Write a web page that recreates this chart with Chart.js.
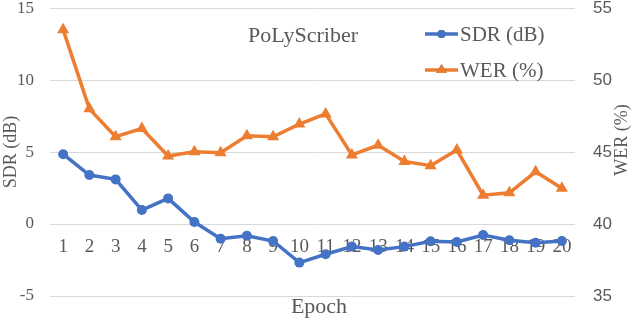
<!DOCTYPE html>
<html>
<head>
<meta charset="utf-8">
<script src="https://cdn.jsdelivr.net/npm/chart.js@4"></script>
<style>
  html, body { margin: 0; padding: 0; background: #fff; }
  #wrap { width: 638px; height: 320px; }
</style>
</head>
<body>
<div id="wrap"><canvas id="chart" width="638" height="320"></canvas></div>
<script>
// data
const epochs = ['1','2','3','4','5','6','7','8','9','10','11','12','13','14','15','16','17','18','19','20'];
const sdrValues = [4.85, 3.4, 3.1, 0.97, 1.78, 0.14, -1.02, -0.81, -1.18, -2.68, -2.1, -1.57, -1.8, -1.57, -1.2, -1.25, -0.76, -1.13, -1.3, -1.18];
const werValues = [53.5, 48.0, 46.06, 46.64, 44.72, 45.02, 44.95, 46.13, 46.06, 46.94, 47.65, 44.8, 45.47, 44.35, 44.05, 45.14, 42.0, 42.17, 43.63, 42.48];
const sdrTicks = [-5, 0, 5, 10, 15];
const werTicks = [35, 40, 45, 50, 55];

const SERIF = '"Liberation Serif", "DejaVu Serif", serif';
const SANS = '"Liberation Sans", Arial, sans-serif';
const TXT = '#595959';
const BLUE = '#4472C4';
const ORANGE = '#ED7D31';

// in-plot caption, legend and right axis title (reads bottom to top)
const extras = {
    id: 'extras',
    afterDraw(chart) {
        const ctx = chart.ctx;
        ctx.save();
        ctx.fillStyle = TXT;
        ctx.font = '22px ' + SERIF;
        ctx.textAlign = 'center';
        ctx.textBaseline = 'middle';
        ctx.fillText('PoLyScriber', 303, 36);

        // legend
        const items = [
            { label: 'SDR (dB)', color: BLUE, style: 'circle', y: 34 },
            { label: 'WER (%)', color: ORANGE, style: 'triangle', y: 70 }
        ];
        items.forEach(function(it) {
            ctx.strokeStyle = it.color;
            ctx.lineWidth = 3.5;
            ctx.beginPath();
            ctx.moveTo(425, it.y);
            ctx.lineTo(458, it.y);
            ctx.stroke();
            Chart.helpers.drawPoint(ctx, {
                pointStyle: it.style,
                radius: it.style == 'circle' ? 4 : 6,
                borderWidth: 0
            }, 441.5, it.y);
            ctx.fillStyle = it.color;
            ctx.fill();
            ctx.fillStyle = TXT;
            ctx.font = '21px ' + SERIF;
            ctx.textAlign = 'left';
            ctx.fillText(it.label, 460, it.y + 1);
        });

        // right axis title
        ctx.translate(622, 140);
        ctx.rotate(-Math.PI / 2);
        ctx.font = '18px ' + SERIF;
        ctx.textAlign = 'center';
        ctx.fillText('WER (%)', 0, 0);
        ctx.restore();
    }
};

const ctx = document.getElementById('chart').getContext('2d');
new Chart(ctx, {
    type: 'line',
    data: {
        labels: epochs,
        datasets: [{
            label: 'SDR (dB)',
            data: sdrValues,
            yAxisID: 'y',
            borderColor: BLUE,
            backgroundColor: BLUE,
            borderWidth: 3.5,
            pointStyle: 'circle',
            pointRadius: 5,
            pointBorderWidth: 0,
            tension: 0
        }, {
            label: 'WER (%)',
            data: werValues,
            yAxisID: 'y1',
            borderColor: ORANGE,
            backgroundColor: ORANGE,
            borderWidth: 3.5,
            pointStyle: 'triangle',
            pointRadius: 7,
            pointBorderWidth: 0,
            tension: 0
        }]
    },
    options: {
        responsive: false,
        animation: false,
        layout: { padding: 0 },
        plugins: {
            legend: { display: false },
            tooltip: { enabled: false },
            title: {
                display: true,
                position: 'bottom',
                text: 'Epoch',
                color: TXT,
                font: { family: SERIF, size: 22, weight: 'normal', lineHeight: 1 },
                padding: { top: 0, bottom: 2 }
            }
        },
        scales: {
            x: {
                axis: 'x',
                type: 'category',
                position: { y: 0 },
                offset: true,
                grid: { display: false, drawTicks: false },
                border: { display: false },
                ticks: {
                    color: TXT,
                    font: { family: SERIF, size: 19 },
                    padding: 12,
                    maxRotation: 0,
                    autoSkip: false
                }
            },
            y: {
                position: 'left',
                min: -5,
                max: 15,
                afterBuildTicks: function(s) { s.ticks = sdrTicks.map(v => ({ value: v })); },
                afterFit: function(s) { s.width = 50; },
                grid: { color: '#D9D9D9', lineWidth: 1, drawTicks: true, tickLength: 16, tickColor: 'rgba(0,0,0,0)' },
                border: { display: false },
                ticks: {
                    color: TXT,
                    font: { family: SERIF, size: 17, lineHeight: 0.95 },
                    padding: 0
                },
                title: {
                    display: true,
                    text: 'SDR (dB)',
                    color: TXT,
                    font: { family: SERIF, size: 18 },
                    padding: 0
                }
            },
            y1: {
                position: 'right',
                min: 35,
                max: 55,
                afterBuildTicks: function(s) { s.ticks = werTicks.map(v => ({ value: v })); },
                afterFit: function(s) { s.width = 63; },
                grid: { drawOnChartArea: false, drawTicks: true, tickLength: 18, tickColor: 'rgba(0,0,0,0)' },
                border: { display: false },
                ticks: {
                    color: TXT,
                    font: { family: SANS, size: 17, lineHeight: 0.95 },
                    padding: 0
                }
            }
        }
    },
    plugins: [extras]
});
</script>
</body>
</html>
